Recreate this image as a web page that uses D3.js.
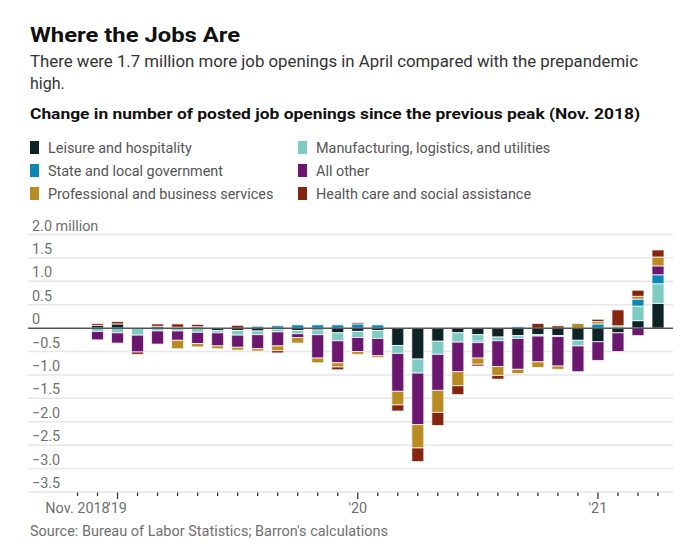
<!DOCTYPE html>
<html>
<head>
<meta charset="utf-8">
<script src="https://cdn.jsdelivr.net/npm/d3@7"></script>
<style>
  body { margin: 0; background: #fff; }
  svg { display: block; font-family: Roboto, "Noto Sans", sans-serif; }
</style>
</head>
<body>
<svg id="chart" width="692" height="551"></svg>
<script>
// ---- Data (millions, change vs. Nov. 2018 peak) ----
const months = ["2018-11","2018-12","2019-01","2019-02","2019-03","2019-04","2019-05","2019-06","2019-07","2019-08","2019-09","2019-10","2019-11","2019-12","2020-01","2020-02","2020-03","2020-04","2020-05","2020-06","2020-07","2020-08","2020-09","2020-10","2020-11","2020-12","2021-01","2021-02","2021-03","2021-04"];

const leisure       = [0, 0.06, 0.09, 0, 0.04, 0.02, 0.03, -0.05, -0.05, -0.06, -0.02, -0.05, -0.04, -0.10, -0.07, -0.05, -0.37, -0.66, -0.28, -0.10, -0.14, -0.19, -0.16, -0.14, -0.16, -0.26, -0.29, -0.10, 0.16, 0.53];
const manufacturing = [0, -0.07, -0.10, -0.15, -0.06, -0.06, -0.09, -0.05, -0.10, -0.08, -0.06, -0.07, -0.10, -0.17, -0.13, -0.17, -0.17, -0.30, -0.28, -0.20, -0.14, -0.08, -0.06, -0.03, -0.02, -0.12, 0, 0.05, 0.31, 0.42];
const stateLocal    = [0, 0, 0, 0, 0, 0, 0, 0, 0, 0.04, 0.05, 0.07, 0.07, 0.07, 0.09, 0.07, 0, 0, 0, 0, -0.03, 0, 0.03, 0, 0, 0, 0.09, 0, 0.15, 0.19];
const allOther      = [0, -0.18, -0.22, -0.36, -0.28, -0.20, -0.24, -0.28, -0.26, -0.30, -0.30, -0.08, -0.50, -0.47, -0.30, -0.37, -0.81, -1.10, -0.77, -0.63, -0.33, -0.55, -0.66, -0.55, -0.63, -0.55, -0.40, -0.40, -0.16, 0.19];
const professional  = [0, 0, 0, 0, 0, -0.18, -0.07, -0.06, -0.06, -0.05, -0.10, -0.12, -0.10, -0.09, -0.06, -0.04, -0.29, -0.50, -0.47, -0.30, -0.13, -0.19, -0.09, -0.12, -0.07, 0.10, 0.05, 0, 0.06, 0.19];
const health        = [0, 0.04, 0.05, -0.05, 0.05, 0.07, 0.05, 0, 0.06, 0, -0.05, 0, 0, -0.06, 0.03, 0, -0.13, -0.29, -0.28, -0.19, -0.04, -0.08, 0, 0.10, 0.05, 0, 0.05, 0.34, 0.13, 0.15];

const seriesKeys   = ["leisure","manufacturing","stateLocal","allOther","professional","health"];
const seriesLabels = {
  leisure: "Leisure and hospitality",
  manufacturing: "Manufacturing, logistics, and utilities",
  stateLocal: "State and local government",
  allOther: "All other",
  professional: "Professional and business services",
  health: "Health care and social assistance"
};
const seriesValues = { leisure, manufacturing, stateLocal, allOther, professional, health };
const colors = {
  leisure: "#0d2326",
  manufacturing: "#7ecbc4",
  stateLocal: "#0b87b5",
  allOther: "#6b176f",
  professional: "#b88c22",
  health: "#852510"
};
const legendOrder = [["leisure","manufacturing"],["stateLocal","allOther"],["professional","health"]];

const yTicks = [2.0, 1.5, 1.0, 0.5, 0, -0.5, -1.0, -1.5, -2.0, -2.5, -3.0, -3.5];
const xLabels = [["2018-11","Nov. 2018"],["2019-01","'19"],["2020-01","'20"],["2021-01","'21"]];

// ---- Build table ----
const table = months.map((m, i) => {
  const row = { month: m };
  seriesKeys.forEach(k => row[k] = seriesValues[k][i]);
  return row;
});

const svg = d3.select("#chart");

// Titles
svg.append("text").attr("x", 30).attr("y", 42)
  .attr("font-size", 21).attr("font-weight", 700).attr("fill", "#111")
  .attr("textLength", 210).attr("lengthAdjust", "spacingAndGlyphs")
  .text("Where the Jobs Are");
svg.append("text").attr("x", 30).attr("y", 67)
  .attr("font-size", 16).attr("fill", "#333")
  .attr("textLength", 608).attr("lengthAdjust", "spacingAndGlyphs")
  .text("There were 1.7 million more job openings in April compared with the prepandemic");
svg.append("text").attr("x", 30).attr("y", 89)
  .attr("font-size", 16).attr("fill", "#333")
  .text("high.");
svg.append("text").attr("x", 30).attr("y", 119)
  .attr("font-size", 15).attr("font-weight", 700).attr("fill", "#111")
  .attr("textLength", 610).attr("lengthAdjust", "spacingAndGlyphs")
  .text("Change in number of posted job openings since the previous peak (Nov. 2018)");

// Legend
const legendRowsY = [148, 171, 194];
const legendColsX = [30, 298];
legendOrder.forEach((row, r) => {
  row.forEach((k, c) => {
    const g = svg.append("g").attr("transform", `translate(${legendColsX[c]},${legendRowsY[r]})`);
    g.append("rect").attr("x", 0).attr("y", -7).attr("width", 9).attr("height", 13).attr("fill", colors[k]);
    g.append("text").attr("x", 18).attr("y", 5).attr("font-size", 14.4).attr("fill", "#555")
      .text(seriesLabels[k]);
  });
});

// Scales
const x = d3.scaleBand().domain(months).range([67.5, 668]).paddingInner(0.4).paddingOuter(0.2);
const y = d3.scaleLinear().domain([-3.5, 2.0]).range([492, 234.5]);

// Gridlines + y labels
const grid = svg.append("g");
yTicks.forEach(v => {
  if (v !== 0) {
    grid.append("line").attr("x1", 28).attr("x2", 673)
      .attr("y1", y(v)).attr("y2", y(v))
      .attr("stroke", "#e6e6e6").attr("stroke-width", 1.5);
  }
  const label = v === 2.0 ? "2.0 million" : (v === 0 ? "0" : d3.format(".1f")(v));
  grid.append("text").attr("x", 32).attr("y", y(v) - 4)
    .attr("font-size", 14.4).attr("fill", "#6f6f6f")
    .text(label);
});

// Stack
const stack = d3.stack().keys(seriesKeys).offset(d3.stackOffsetDiverging);
const stacked = stack(table);

svg.append("g").selectAll("g")
  .data(stacked)
  .join("g")
  .attr("fill", d => colors[d.key])
  .selectAll("rect")
  .data(d => d.filter(s => Math.abs(s[1] - s[0]) > 1e-9))
  .join("rect")
  .attr("x", d => x(d.data.month))
  .attr("width", x.bandwidth())
  .attr("y", d => y(Math.max(d[0], d[1])))
  .attr("height", d => Math.abs(y(d[0]) - y(d[1])))
  .attr("stroke", "#fff")
  .attr("stroke-opacity", 0.75)
  .attr("stroke-width", 1);

// Zero line
svg.append("line").attr("x1", 28).attr("x2", 673)
  .attr("y1", y(0)).attr("y2", y(0))
  .attr("stroke", "#555").attr("stroke-width", 1.5);

// X ticks
const ticks = svg.append("g");
months.forEach(m => {
  const cx = x(m) + x.bandwidth() / 2;
  const major = m.endsWith("-01");
  ticks.append("line").attr("x1", cx).attr("x2", cx)
    .attr("y1", 492.5).attr("y2", major ? 499 : 496)
    .attr("stroke", "#333").attr("stroke-width", 1.3);
});
xLabels.forEach(([m, t]) => {
  const cx = x(m) + x.bandwidth() / 2;
  ticks.append("text").attr("x", cx).attr("y", 513)
    .attr("text-anchor", "middle").attr("font-size", 14.4).attr("fill", "#6f6f6f")
    .text(t);
});

// Source
svg.append("text").attr("x", 30).attr("y", 536)
  .attr("font-size", 14).attr("fill", "#6f6f6f")
  .attr("textLength", 358).attr("lengthAdjust", "spacingAndGlyphs")
  .text("Source: Bureau of Labor Statistics; Barron's calculations");
</script>
</body>
</html>
